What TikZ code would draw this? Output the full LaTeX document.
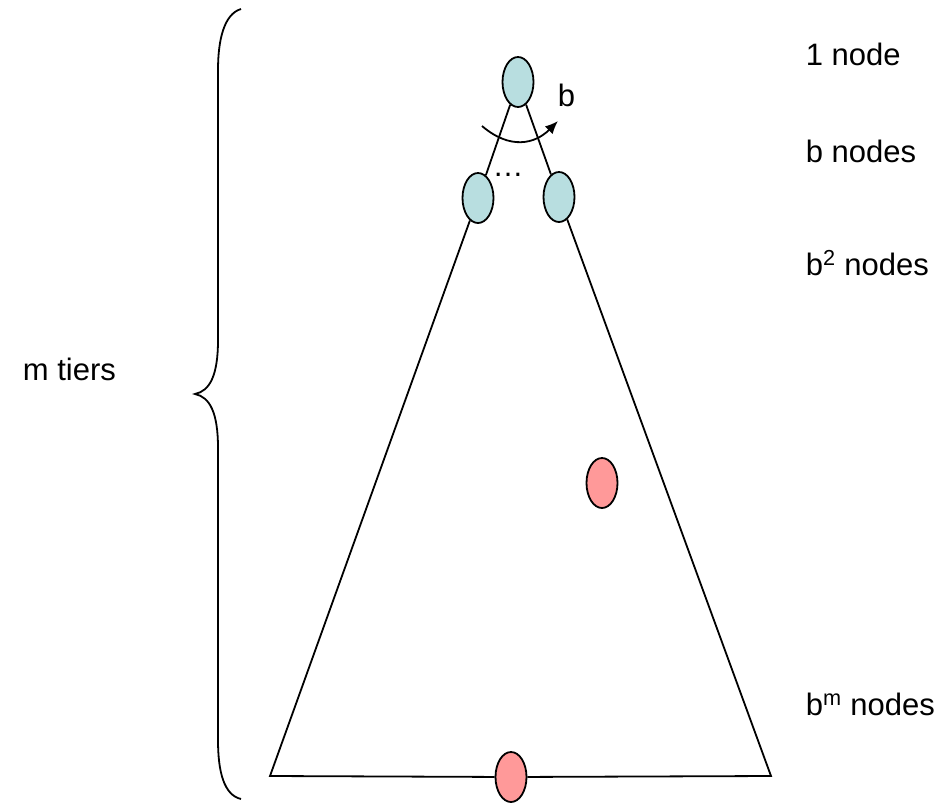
\documentclass[tikz,border=0pt]{standalone}
\usepackage{fontspec}
\setmainfont{Liberation Sans}
\usepackage{xcolor}
\usepackage{tikz}
\usetikzlibrary{arrows.meta,shapes.geometric}
\definecolor{knotblau}{RGB}{184,222,224}
\definecolor{knotrot}{RGB}{255,153,153}
\newcommand{\Tierlabel}[3]{%
  \node[anchor=base west] (#1) at (805,#2) {#3};
}
\tikzset{
  knot/.style={ellipse,draw,line width=1.8pt,minimum width=31pt,minimum height=50pt,inner sep=0pt},
  every node/.append style={font=\fontsize{31}{37}\selectfont,inner sep=0pt}
}

\begin{document}
\begin{tikzpicture}[x=1pt,y=-1pt,>={Latex[length=13pt,width=11pt]},line width=1.8pt]
  \useasboundingbox (0,0) rectangle (950,803);
  \node[knot,fill=knotblau] (wurzel) at (518,82) {};
  \node[knot,fill=knotblau] (links) at (478,198) {};
  \node[knot,fill=knotblau] (rechts) at (559,197) {};
  \node[knot,fill=knotrot] (mitte) at (602,483) {};
  \node[knot,fill=knotrot] (unten) at (511,777) {};
  \coordinate (ecklinks) at (270,776);
  \coordinate (eckrechts) at (771,776);
  \draw (wurzel) -- (links);
  \draw (wurzel) -- (rechts);
  \draw (links) -- (ecklinks) -- (unten);
  \draw (unten) -- (eckrechts) -- (rechts);
  \node[anchor=base] (punkte) at (508,176) {\dots};
  \coordinate (bogenA) at (482,126);
  \coordinate (bogenB) at (558,121);
  \draw[->] (bogenA) .. controls (510,150) and (535,144) .. (bogenB);
  \node[anchor=base west] (bzahl) at (557,106) {b};
  % Klammer
  \draw (241,9) .. controls (224,14) and (218,40) .. (218,70)
    -- (218,340) .. controls (218,375) and (210,391) .. (195,394)
    .. controls (210,397) and (218,413) .. (218,448)
    -- (218,740) .. controls (218,772) and (224,795) .. (241,799);
  \node[anchor=base west] (tiers) at (22,380) {m tiers};
  \Tierlabel{ebene1}{65}{1 node}
  \Tierlabel{ebene2}{162}{b nodes}
  \Tierlabel{ebene3}{275}{b\textsuperscript{2} nodes}
  \Tierlabel{ebenem}{715}{b\textsuperscript{m} nodes}
\end{tikzpicture}
\end{document}
